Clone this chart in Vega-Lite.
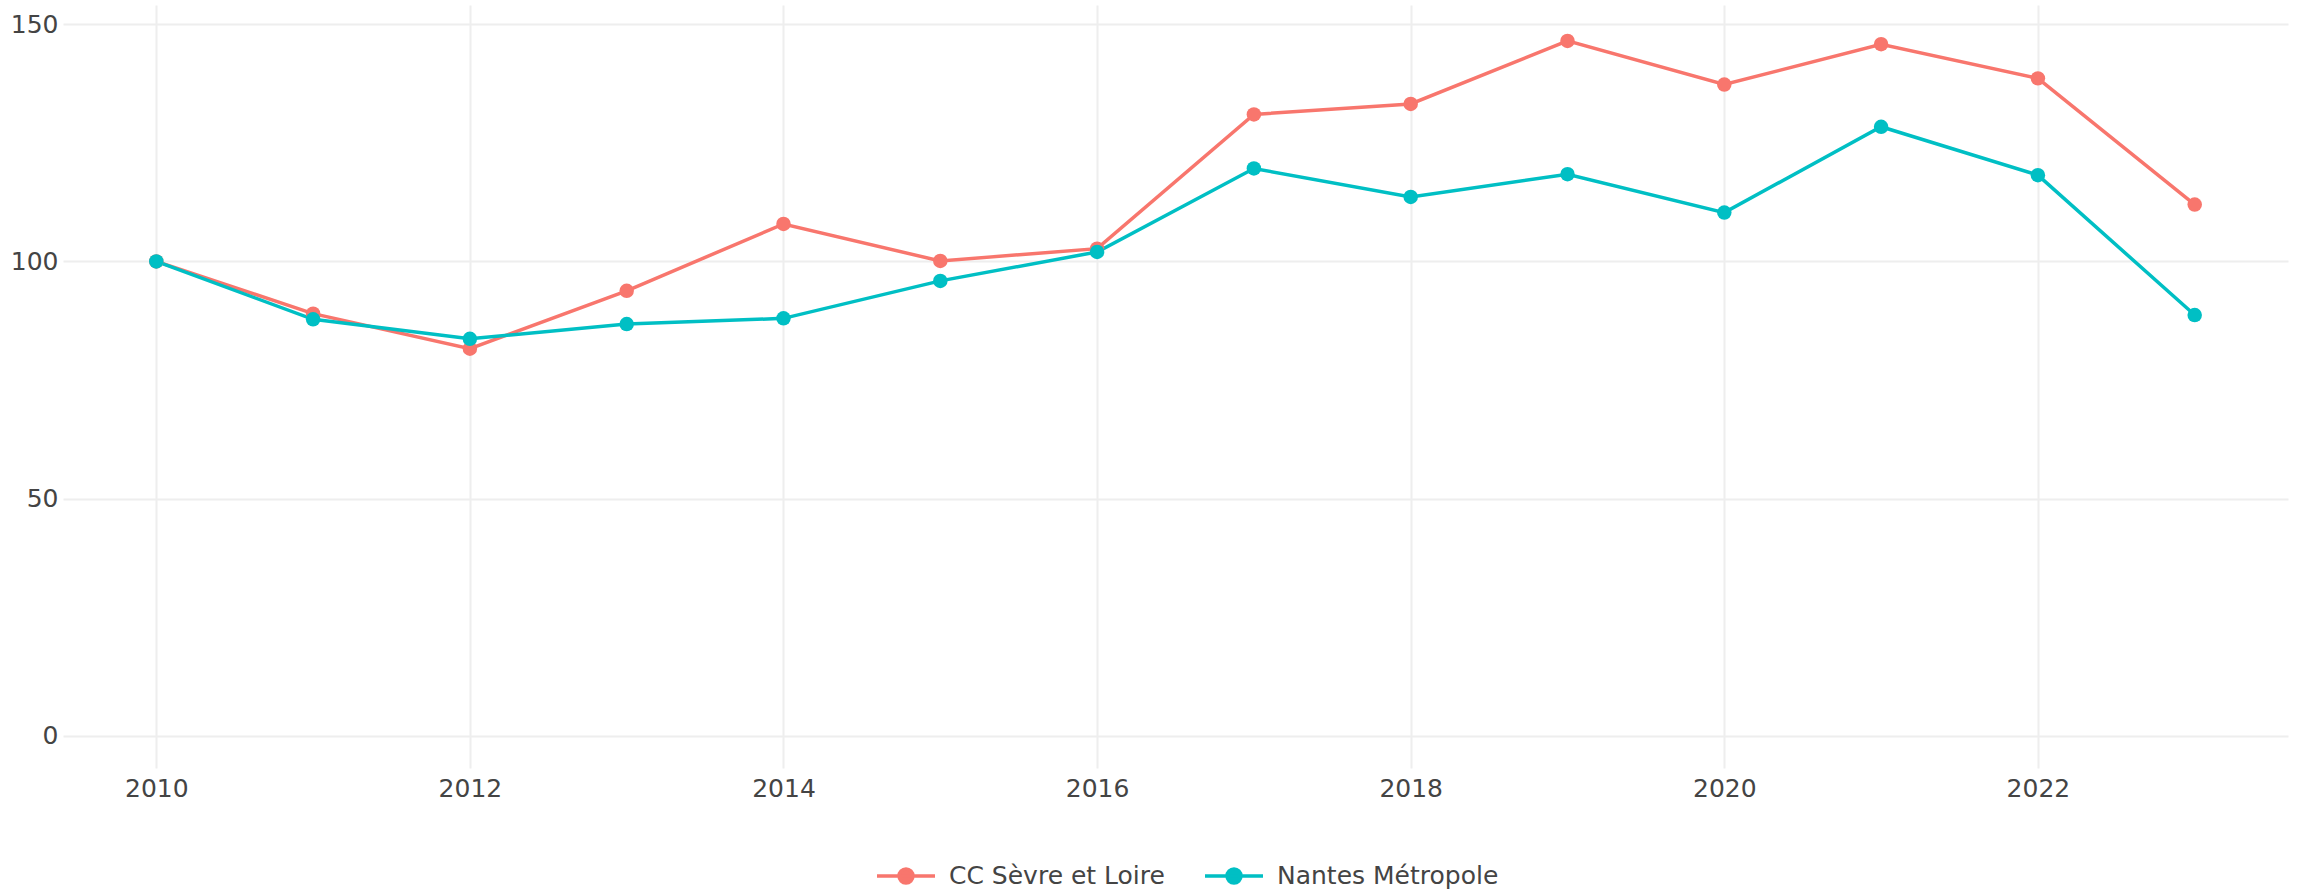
{
  "$schema": "https://vega.github.io/schema/vega-lite/v6.json",
  "width": 2225,
  "height": 763,
  "autosize": {"type": "none"},
  "padding": {"left": 63, "top": 5, "right": 20, "bottom": 123},
  "background": "white",
  "config": {"view": {"stroke": null}, "font": "DejaVu Sans"},
  "data": {
    "values": [
      {"year": 2010, "territoire": "CC Sèvre et Loire", "value": 100},
      {"year": 2011, "territoire": "CC Sèvre et Loire", "value": 89.0},
      {"year": 2012, "territoire": "CC Sèvre et Loire", "value": 81.6},
      {"year": 2013, "territoire": "CC Sèvre et Loire", "value": 93.8},
      {"year": 2014, "territoire": "CC Sèvre et Loire", "value": 107.9},
      {"year": 2015, "territoire": "CC Sèvre et Loire", "value": 100.1},
      {"year": 2016, "territoire": "CC Sèvre et Loire", "value": 102.7},
      {"year": 2017, "territoire": "CC Sèvre et Loire", "value": 131.0},
      {"year": 2018, "territoire": "CC Sèvre et Loire", "value": 133.2},
      {"year": 2019, "territoire": "CC Sèvre et Loire", "value": 146.5},
      {"year": 2020, "territoire": "CC Sèvre et Loire", "value": 137.3},
      {"year": 2021, "territoire": "CC Sèvre et Loire", "value": 145.8},
      {"year": 2022, "territoire": "CC Sèvre et Loire", "value": 138.6},
      {"year": 2023, "territoire": "CC Sèvre et Loire", "value": 112.0},
      {"year": 2010, "territoire": "Nantes Métropole", "value": 100},
      {"year": 2011, "territoire": "Nantes Métropole", "value": 87.8},
      {"year": 2012, "territoire": "Nantes Métropole", "value": 83.7},
      {"year": 2013, "territoire": "Nantes Métropole", "value": 86.8},
      {"year": 2014, "territoire": "Nantes Métropole", "value": 88.0},
      {"year": 2015, "territoire": "Nantes Métropole", "value": 95.9},
      {"year": 2016, "territoire": "Nantes Métropole", "value": 102.0},
      {"year": 2017, "territoire": "Nantes Métropole", "value": 119.6},
      {"year": 2018, "territoire": "Nantes Métropole", "value": 113.6},
      {"year": 2019, "territoire": "Nantes Métropole", "value": 118.4},
      {"year": 2020, "territoire": "Nantes Métropole", "value": 110.3},
      {"year": 2021, "territoire": "Nantes Métropole", "value": 128.4},
      {"year": 2022, "territoire": "Nantes Métropole", "value": 118.2},
      {"year": 2023, "territoire": "Nantes Métropole", "value": 88.7}
    ]
  },
  "encoding": {
    "x": {
      "field": "year",
      "type": "quantitative",
      "scale": {"domain": [2009.405, 2023.595], "nice": false, "zero": false},
      "axis": {
        "title": null,
        "values": [2010, 2012, 2014, 2016, 2018, 2020, 2022],
        "format": "d",
        "domain": false,
        "ticks": false,
        "grid": true,
        "gridColor": "#eeeeee",
        "gridWidth": 2,
        "labelFontSize": 25,
        "labelColor": "#444444",
        "labelFont": "DejaVu Sans",
        "labelPadding": 8,
        "labelFlush": false
      }
    },
    "y": {
      "field": "value",
      "type": "quantitative",
      "scale": {"domain": [-6.8, 154.07], "nice": false, "zero": false},
      "axis": {
        "title": null,
        "values": [0, 50, 100, 150],
        "domain": false,
        "ticks": false,
        "grid": true,
        "gridColor": "#eeeeee",
        "gridWidth": 2,
        "labelFontSize": 25,
        "labelColor": "#444444",
        "labelFont": "DejaVu Sans",
        "labelPadding": 5,
        "labelFlush": false
      }
    },
    "color": {
      "field": "territoire",
      "type": "nominal",
      "scale": {"domain": ["CC Sèvre et Loire", "Nantes Métropole"], "range": ["#F8766D", "#00BFC4"]},
      "legend": {
        "title": null,
        "orient": "none",
        "legendX": 812,
        "legendY": 840,
        "direction": "horizontal",
        "labelFontSize": 25,
        "labelColor": "#444444",
        "labelFont": "DejaVu Sans",
        "labelLimit": 500,
        "labelOffset": 12,
        "columnPadding": 33,
        "symbolType": "M-1,0L1,0M-0.24,0A0.24,0.24,0,1,0,0.24,0A0.24,0.24,0,1,0,-0.24,0Z",
        "symbolSize": 3364,
        "symbolStrokeWidth": 3.5,
        "symbolOpacity": 1,
        "encode": {
          "symbols": {
            "update": {
              "fill": {"scale": "color", "field": "value"},
              "stroke": {"scale": "color", "field": "value"},
              "opacity": {"value": 1}
            }
          }
        }
      }
    }
  },
  "layer": [
    {"mark": {"type": "line", "strokeWidth": 3.5}},
    {"mark": {"type": "point", "filled": true, "size": 210, "opacity": 1}}
  ]
}
